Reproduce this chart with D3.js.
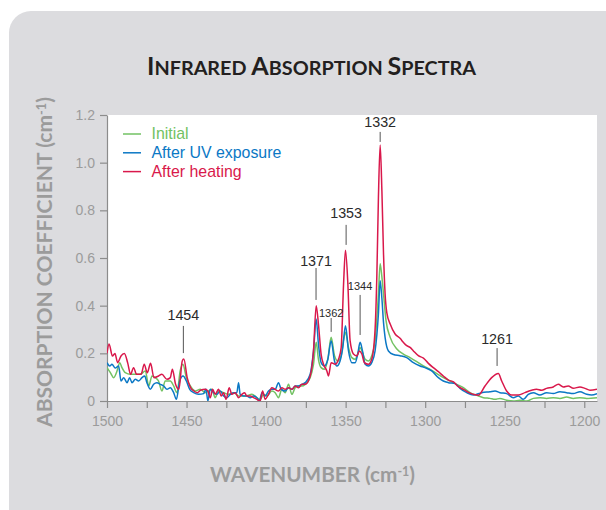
<!DOCTYPE html>
<html><head><meta charset="utf-8">
<script src="https://cdn.jsdelivr.net/npm/d3@7"></script>
<style>html,body{margin:0;padding:0;background:#fff;} svg{display:block;}</style>
</head><body>
<svg id="chart" width="606" height="510"></svg>
<script>
// ---------------- DATA ----------------
const seriesNames = ["Initial", "After UV exposure", "After heating"];
const seriesColors = ["#72c263", "#0b78c5", "#d9184b"];

const initialWavenumber = [1500,1497.9,1495.8,1493.7,1492.0,1490.6,1488.5,1485.3,1483.3,1479.1,1475.9,1473.8,1471.7,1469.6,1467.6,1465.5,1463.4,1460.2,1458.1,1456.0,1454.0,1452.3,1450.1,1447.6,1444.5,1441.4,1438.2,
1436.2,1434.1,1432.0,1429.9,1426.7,1423.6,1420.4,1417.3,1413.1,1408.9,1405.8,1403.7,1401.6,1399.5,1396.4,1394.3,1392.2,1390.1,1388.0,1385.9,1383.8,1381.7,1379.6,1377.5,1375.4,
1372.3,1370.2,1368.5,1367.1,1365.4,1363.3,1361.2,1359.1,1357.0,1354.9,1352.8,1351.4,1350.1,1348.2,1346.1,1344.0,1342.4,1340.9,1339.4,1337.7,1335.7,1333.6,1331.5,1329.4,1328.3,1327.2,1326.2,1324.6,1322.0,1317.8,1313.7,1309.5,1305.3,1301.1,1296.9,1292.7,1288.5,1284.3,1280.2,1276.0,1271.8,1267.6,1263.4,1259.3,1256.1,1253.0,1248.8,1244.6,1240.4,1236.2,1232.0,1227.8,1223.7,1219.5,1215.3,1211.1,1206.9,1202.7,1198.5,1192.0];
const initialAbsorption = [0.14,0.119,0.098,0.126,0.161,0.14,0.119,0.112,0.112,0.112,0.126,0.063,0.105,0.098,0.084,0.042,0.084,0.084,0.063,0.035,0.126,0.154,0.098,0.063,0.042,0.049,0.035,
0.042,0.049,0.014,0.042,0.035,0.028,0.035,0.021,0.021,0.028,0.014,0.007,0.028,0.021,0.042,0.035,0.014,0.049,0.035,0.07,0.028,0.056,0.063,0.063,0.07,
0.098,0.154,0.246,0.175,0.14,0.133,0.175,0.267,0.19,0.168,0.19,0.253,0.288,0.224,0.182,0.175,0.197,0.224,0.203,0.175,0.168,0.19,0.253,0.449,0.576,0.52,0.45,0.337,0.267,0.218,0.197,0.182,0.165,0.147,0.133,0.115,0.098,0.084,0.07,0.056,0.035,0.024,0.014,0.011,0.007,0.011,0.003,0,0.003,0,0.011,0.014,0.011,0.014,0.011,0.017,0.011,0.014,0.011,0.014];

const uvWavenumber = [1500,1498.3,1496.9,1494.8,1492.7,1491.2,1489.5,1487.4,1485.8,1484.3,1482.2,1480.1,1478.0,1476.3,1474.9,1472.8,1470.7,1468.6,1466.5,1464.4,1462.3,1460.2,1458.1,1456.4,1454.3,1452.2,1450.1,1448.0,1445.5,1442.4,1439.2,1437.8,1436.6,1435.1,1433.0,1430.9,1428.8,1426.7,1424.6,1422.5,1420.4,1418.4,1417.3,1416.3,1414.2,1412.1,1410.0,1407.9,1405.8,1404.3,1402.6,1400.6,1398.5,1396.4,1394.3,1392.2,1390.5,1388.0,1385.9,1383.7,1381.7,1379.6,1377.5,1375.4,
1372.3,1370.2,1368.5,1367.1,1365.4,1363.3,1361.2,1359.1,1357.0,1355.5,1353.5,1351.8,1350.1,1348.2,1346.1,1344.0,1342.4,1340.9,1339.4,1337.7,1335.7,1333.6,1331.5,1329.4,1328.3,1327.2,1326.2,1325.2,1323.1,1319.9,1315.8,1311.6,1307.4,1303.2,1300.1,1295.9,1291.7,1288.6,1285.4,1281.2,1278.1,1273.9,1269.7,1264.5,1259.3,1256.1,1253.0,1248.8,1244.6,1241.5,1238.3,1235.2,1232.0,1227.9,1223.7,1219.5,1215.3,1211.1,1206.9,1202.7,1198.5,1195.4,1192.0];
const uvAbsorption = [0.161,0.147,0.154,0.138,0.147,0.084,0.098,0.077,0.098,0.077,0.091,0.084,0.098,0.105,0.077,0.049,0.07,0.077,0.07,0.063,0.049,0.056,0.035,0.007,0.084,0.105,0.084,0.049,0.035,0.028,0.031,0.05,0,0.049,0.035,0.028,0.042,0.021,0.014,0.028,0.035,0.035,0.077,0.028,0.021,0.021,0.014,0.021,0.014,0,0.035,0.021,0.042,0.049,0.049,0.077,0.049,0.042,0.056,0.049,0.063,0.063,0.07,0.077,
0.112,0.21,0.344,0.239,0.161,0.147,0.175,0.253,0.168,0.147,0.168,0.224,0.316,0.21,0.161,0.161,0.197,0.246,0.21,0.154,0.147,0.161,0.21,0.365,0.505,0.43,0.33,0.267,0.21,0.195,0.19,0.182,0.161,0.147,0.14,0.126,0.098,0.084,0.077,0.073,0.053,0.035,0.025,0.035,0.039,0.042,0.035,0.031,0.014,0.021,0.007,0.028,0.035,0.025,0.035,0.031,0.039,0.035,0.031,0.039,0.028,0.025,0.031];

const heatedWavenumber = [1500,1498.7,1496.6,1495.0,1493.3,1491.2,1489.1,1487.0,1485.2,1483.3,1481.4,1478.6,1476.6,1474.7,1472.6,1470.5,1467.6,1465.5,1462.3,1460.2,1458.9,1456.9,1454.8,1452.7,1451.7,1449.6,1447.5,1445.4,1443.3,1441.2,1438.3,1436.6,1435.1,1433.6,1432.0,1429.9,1428.2,1426.7,1425.1,1423.2,1421.5,1419.4,1417.3,1415.2,1413.5,1412.1,1410.0,1407.9,1405.8,1403.7,1402.2,1400.6,1398.5,1396.4,1394.3,1392.2,1390.1,1388.0,1385.9,1383.7,1381.7,1379.6,1377.5,1375.4,
1372.3,1370.2,1368.5,1367.1,1365.4,1363.9,1361.8,1360.8,1359.1,1356.6,1354.5,1352.8,1351.3,1350.1,1348.6,1347.2,1345.1,1343.0,1341.3,1339.8,1338.2,1335.7,1333.6,1331.5,1330.4,1329.4,1328.3,1327.2,1326.2,1325.2,1324.1,1322.0,1318.9,1315.8,1313.7,1311.6,1309.5,1307.4,1304.3,1301.1,1298.0,1294.9,1291.7,1288.6,1285.4,1282.2,1279.1,1276.0,1271.8,1268.6,1266.6,1262.4,1258.2,1254.0,1251.9,1248.8,1245.7,1241.5,1237.3,1233.1,1230.0,1226.8,1223.7,1219.5,1216.3,1213.2,1210.1,1206.9,1202.7,1199.6,1196.4,1192.0];
const heatedAbsorption = [0.20,0.239,0.189,0.199,0.161,0.189,0.199,0.16,0.112,0.14,0.112,0.112,0.154,0.119,0.158,0.098,0.105,0.112,0.091,0.098,0.133,0.07,0.049,0.168,0.176,0.098,0.056,0.042,0.035,0.045,0.049,0.042,0.014,0.049,0.028,0.049,0.021,0.035,0.007,0.056,0.028,0.035,0.014,0.028,0.035,0.021,0.021,0.014,0.007,0,0.042,0.007,0.028,0.056,0.049,0.042,0.056,0.049,0.056,0.049,0.063,0.056,0.07,0.07,
0.105,0.21,0.40,0.323,0.196,0.154,0.126,0.105,0.161,0.154,0.175,0.224,0.491,0.632,0.491,0.253,0.197,0.189,0.21,0.197,0.161,0.154,0.175,0.30,0.52,0.85,1.074,0.88,0.62,0.45,0.37,0.323,0.281,0.263,0.246,0.232,0.225,0.21,0.19,0.18,0.158,0.14,0.123,0.105,0.088,0.08,0.06,0.049,0.033,0.026,0.024,0.063,0.098,0.115,0.084,0.042,0.025,0.025,0.035,0.045,0.049,0.045,0.053,0.059,0.07,0.059,0.063,0.053,0.059,0.053,0.045,0.049];

const xTickValues = [1500,1475,1450,1425,1400,1375,1350,1325,1300,1275,1250,1225,1200];
const xTickLabels = ["1500","","1450","","1400","","1350","","1300","","1250","","1200"];
const yTickValues = [0,0.2,0.4,0.6,0.8,1.0,1.2];
const yTickLabels = ["0","0.2","0.4","0.6","0.8","1.0","1.2"];

// peak annotations (label, wavenumber of marker, line top / bottom and label baseline in absorption units)
const peakLabels = ["1454","1371","1362","1353","1344","1332","1261"];
const peakWavenumber = [1452.0,1368.6,1359.1,1349.7,1340.9,1328.3,1254.8];
const peakLineTop = [0.315,0.558,0.348,0.739,0.445,1.129,0.222];
const peakLineBottom = [0.201,0.424,0.290,0.655,0.277,1.087,0.147];
const peakLabelLevel = [0.338,0.567,0.352,0.766,0.466,1.150,0.239];
const peakLabelSmall = [false,false,true,false,true,false,false];

// ---------------- CHART ----------------
const svg = d3.select("#chart");
const sans = "'Liberation Sans', Arial, Helvetica, sans-serif";
const titleFont = "Lato, 'Open Sans', sans-serif";

svg.append("rect").attr("x", 9).attr("y", 11).attr("width", 660).attr("height", 560)
  .attr("rx", 22).attr("fill", "#dcdcdf");

const plot = {left: 107, right: 597, top: 115, bottom: 401};
svg.append("rect").attr("x", plot.left).attr("y", plot.top)
  .attr("width", plot.right - plot.left).attr("height", plot.bottom - plot.top).attr("fill", "#fff");

const x = d3.scaleLinear().domain([1500, 1192]).range([plot.left, plot.right]);
const y = d3.scaleLinear().domain([0, 1.2]).range([plot.bottom, plot.top]);

svg.append("defs").append("clipPath").attr("id", "clip").append("rect")
  .attr("x", plot.left).attr("y", plot.top - 5).attr("width", plot.right - plot.left).attr("height", plot.bottom - plot.top + 5);

// axes
const axisColor = "#8c8c8c";
const labelColor = "#9b9b9b";
const gx = svg.append("g").attr("transform", `translate(0,${plot.bottom})`)
  .call(d3.axisBottom(x).tickValues(xTickValues).tickFormat((d, i) => xTickLabels[i]).tickSize(7).tickSizeOuter(0).tickPadding(8));
const gy = svg.append("g").attr("transform", `translate(${plot.left},0)`)
  .call(d3.axisLeft(y).tickValues(yTickValues).tickFormat((d, i) => yTickLabels[i]).tickSize(7).tickSizeOuter(0).tickPadding(5));
[gx, gy].forEach(g => {
  g.select(".domain").attr("stroke", axisColor).attr("stroke-width", 1.2);
  g.selectAll(".tick line").attr("stroke", axisColor).attr("stroke-width", 1.2);
  g.selectAll(".tick text").attr("fill", labelColor).style("font-family", sans).style("font-size", "14px");
});

// series
const series = [
  {wn: initialWavenumber, ab: initialAbsorption},
  {wn: uvWavenumber, ab: uvAbsorption},
  {wn: heatedWavenumber, ab: heatedAbsorption}
];
const line = d3.line().x(d => x(d[0])).y(d => y(d[1])).curve(d3.curveMonotoneX);
const lines = svg.append("g").attr("clip-path", "url(#clip)");
series.forEach((s, i) => {
  const pts = s.wn.map((w, j) => [w, s.ab[j]]);
  lines.append("path").datum(pts).attr("d", line)
    .attr("fill", "none").attr("stroke", seriesColors[i]).attr("stroke-width", 1.5)
    .attr("stroke-linejoin", "round");
});

// peak annotations
const ann = svg.append("g");
peakLabels.forEach((lab, i) => {
  const px = x(peakWavenumber[i]);
  ann.append("line").attr("x1", px).attr("x2", px)
    .attr("y1", y(peakLineTop[i])).attr("y2", y(peakLineBottom[i]))
    .attr("stroke", "#555").attr("stroke-width", 1);
  ann.append("text").attr("x", px).attr("y", y(peakLabelLevel[i]))
    .attr("text-anchor", "middle").attr("fill", "#2a2a2a")
    .style("font-family", sans).style("font-size", peakLabelSmall[i] ? "11px" : "14.3px")
    .text(lab);
});

// legend
const legend = svg.append("g");
seriesNames.forEach((name, i) => {
  const ly = 134 + i * 18.8;
  legend.append("line").attr("x1", 123).attr("x2", 141).attr("y1", ly).attr("y2", ly)
    .attr("stroke", seriesColors[i]).attr("stroke-width", 1.5);
  legend.append("text").attr("x", 151.5).attr("y", ly + 5.2)
    .attr("fill", seriesColors[i]).style("font-family", sans).style("font-size", "15.9px").text(name);
});

function fitWidth(textSel, target) {
  const w = textSel.node().getComputedTextLength();
  const fs = parseFloat(textSel.style("font-size"));
  textSel.style("font-size", (fs * target / w) + "px");
}

// title with small caps
const title = svg.append("text").attr("x", 311.5).attr("y", 75).attr("text-anchor", "middle")
  .attr("fill", "#231f20").style("font-family", titleFont).style("font-weight", "700").style("font-size", "23px");
[["I","NFRARED "],["A","BSORPTION "],["S","PECTRA"]].forEach(p => {
  title.append("tspan").text(p[0]);
  title.append("tspan").style("font-size", "0.79em").text(p[1]);
});
fitWidth(title, 329);

// axis titles
const xTitle = svg.append("text").attr("x", 312.5).attr("y", 482).attr("text-anchor", "middle")
  .attr("fill", labelColor).style("font-family", titleFont).style("font-weight", "700").style("font-size", "19px");
xTitle.append("tspan").text("WAVENUMBER (cm");
xTitle.append("tspan").attr("dy", "-0.45em").style("font-size", "0.6em").text("-1");
xTitle.append("tspan").attr("dy", "0.27em").text(")");
fitWidth(xTitle, 205);

const yTitle = svg.append("text").attr("transform", "translate(52,262) rotate(-90)").attr("text-anchor", "middle")
  .attr("fill", labelColor).style("font-family", titleFont).style("font-weight", "700").style("font-size", "20px");
yTitle.append("tspan").text("ABSORPTION COEFFICIENT (cm");
yTitle.append("tspan").attr("dy", "-0.45em").style("font-size", "0.6em").text("-1");
yTitle.append("tspan").attr("dy", "0.27em").text(")");
fitWidth(yTitle, 330);
</script>
</body></html>
